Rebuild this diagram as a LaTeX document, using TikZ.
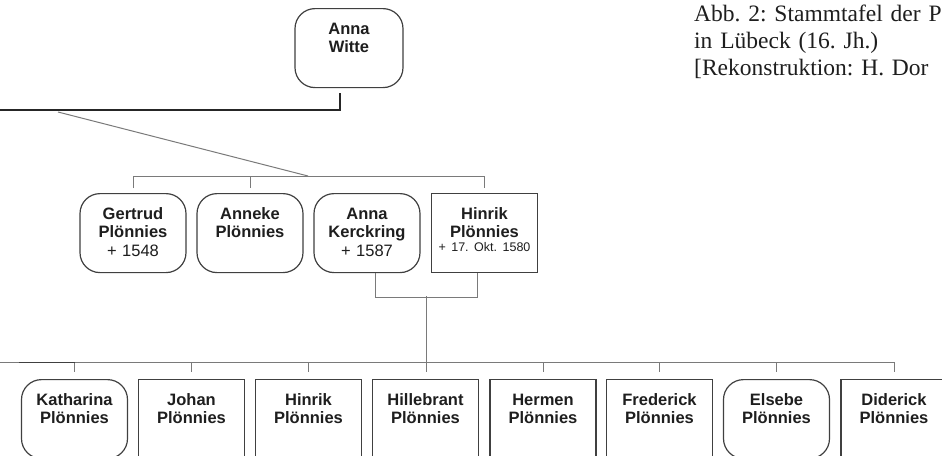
\documentclass[tikz,border=0pt]{standalone}
\usepackage{fontspec}
\setmainfont{Liberation Serif}
\newfontfamily\arialfont{Liberation Sans}
\usetikzlibrary{calc}
\frenchspacing
\definecolor{boxcol}{HTML}{404040}
\definecolor{linecol}{HTML}{7A7A7A}
\definecolor{txtcol}{HTML}{1E1E1E}
\begin{document}
\begin{tikzpicture}[x=1pt,y=-1pt,
  person/.style={draw=boxcol, line width=1.2pt, inner sep=0pt, minimum width=106pt,
    text width=106pt, align=center, text height=26pt, text depth=53pt, anchor=north,
    text=txtcol, font=\arialfont\bfseries\fontsize{16.5}{18}\selectfont\frenchspacing},
  woman/.style={person, rounded corners=20pt},
  man/.style={person},
  link/.style={draw=linecol, line width=1pt},
  mainline/.style={draw=black!85, line width=1.4pt}]
\useasboundingbox (0,0) rectangle (942,455);
\fill[white] (0,0) rectangle (942,455);
\clip (0,0) rectangle (942,455);

% caption
\node[anchor=base west, inner sep=0pt, text width=330pt, align=left, text=txtcol,
  font=\fontsize{23.5}{27}\selectfont\frenchspacing] (cap) at (694,21)
  {Abb. 2: Stammtafel der P\\in Lübeck (16. Jh.)\\{[}Rekonstruktion: H. Dor};

% generation 1
\node[woman, minimum width=108pt, text width=108pt] (aw) at (349,8) {Anna\\Witte};

% generation 2
\node[woman] (gert)   at (133,193)   {Gertrud\\Plönnies\\[1pt]{\mdseries + 1548}};
\node[woman] (anneke) at (250,193)   {Anneke\\Plönnies};
\node[woman] (annak)  at (367,193)   {Anna\\Kerckring\\[1pt]{\mdseries + 1587}};
\node[man]   (hin1)   at (484.5,193) {Hinrik\\Plönnies\\[-4pt]{\mdseries\fontsize{12.5}{14}\selectfont + 17. Okt. 1580}};

% generation 3
\node[woman] (kath)   at (74.5,379)  {Katharina\\Plönnies};
\node[man]   (johan)  at (191.5,379) {Johan\\Plönnies};
\node[man]   (hin2)   at (308.5,379) {Hinrik\\Plönnies};
\node[man]   (hille)  at (425.5,379) {Hillebrant\\Plönnies};
\node[man]   (hermen) at (543,379)   {Hermen\\Plönnies};
\node[man]   (fred)   at (659.5,379) {Frederick\\Plönnies};
\node[woman] (elsebe) at (776.5,379) {Elsebe\\Plönnies};
\node[man]   (dider)  at (894,379)   {Diderick\\Plönnies};

% connectors
\coordinate (awl) at (-5,110);
\draw[mainline] ($(aw.south)+(-9,5)$) |- (awl);

\coordinate (d0) at (58,112);
\coordinate (mbar) at (308,176);
\draw[link] (d0) -- (mbar);

\draw[link] ($(gert.north)+(0,-5)$) |- ($(hin1.north)+(0,-17)$) -- ($(hin1.north)+(0,-5)$);
\draw[link] ($(anneke.north)+(0,-17)$) -- ($(anneke.north)+(0,-5)$);

\draw[link] ($(annak.south)+(8,0)$) -- ++(0,24) -| ($(hin1.south)+(-7.5,0)$);
\coordinate (brk) at (426,296);
\draw[link] (brk) -- ($(hille.north)+(0.5,-7)$);

\coordinate (bl) at (-5,362);
\draw[link] (bl) -| ($(dider.north)+(0,-7)$);
\foreach \n in {kath,johan,hin2,hermen,fred,elsebe}{
  \draw[link] ($(\n.north)+(0,-17)$) -- ($(\n.north)+(0,-7)$);
}
\draw[line width=1.4pt, draw=black!75] ($(kath.north)+(-55.5,-16.5)$) -- ($(kath.north)+(0,-16.5)$);
\end{tikzpicture}
\end{document}
